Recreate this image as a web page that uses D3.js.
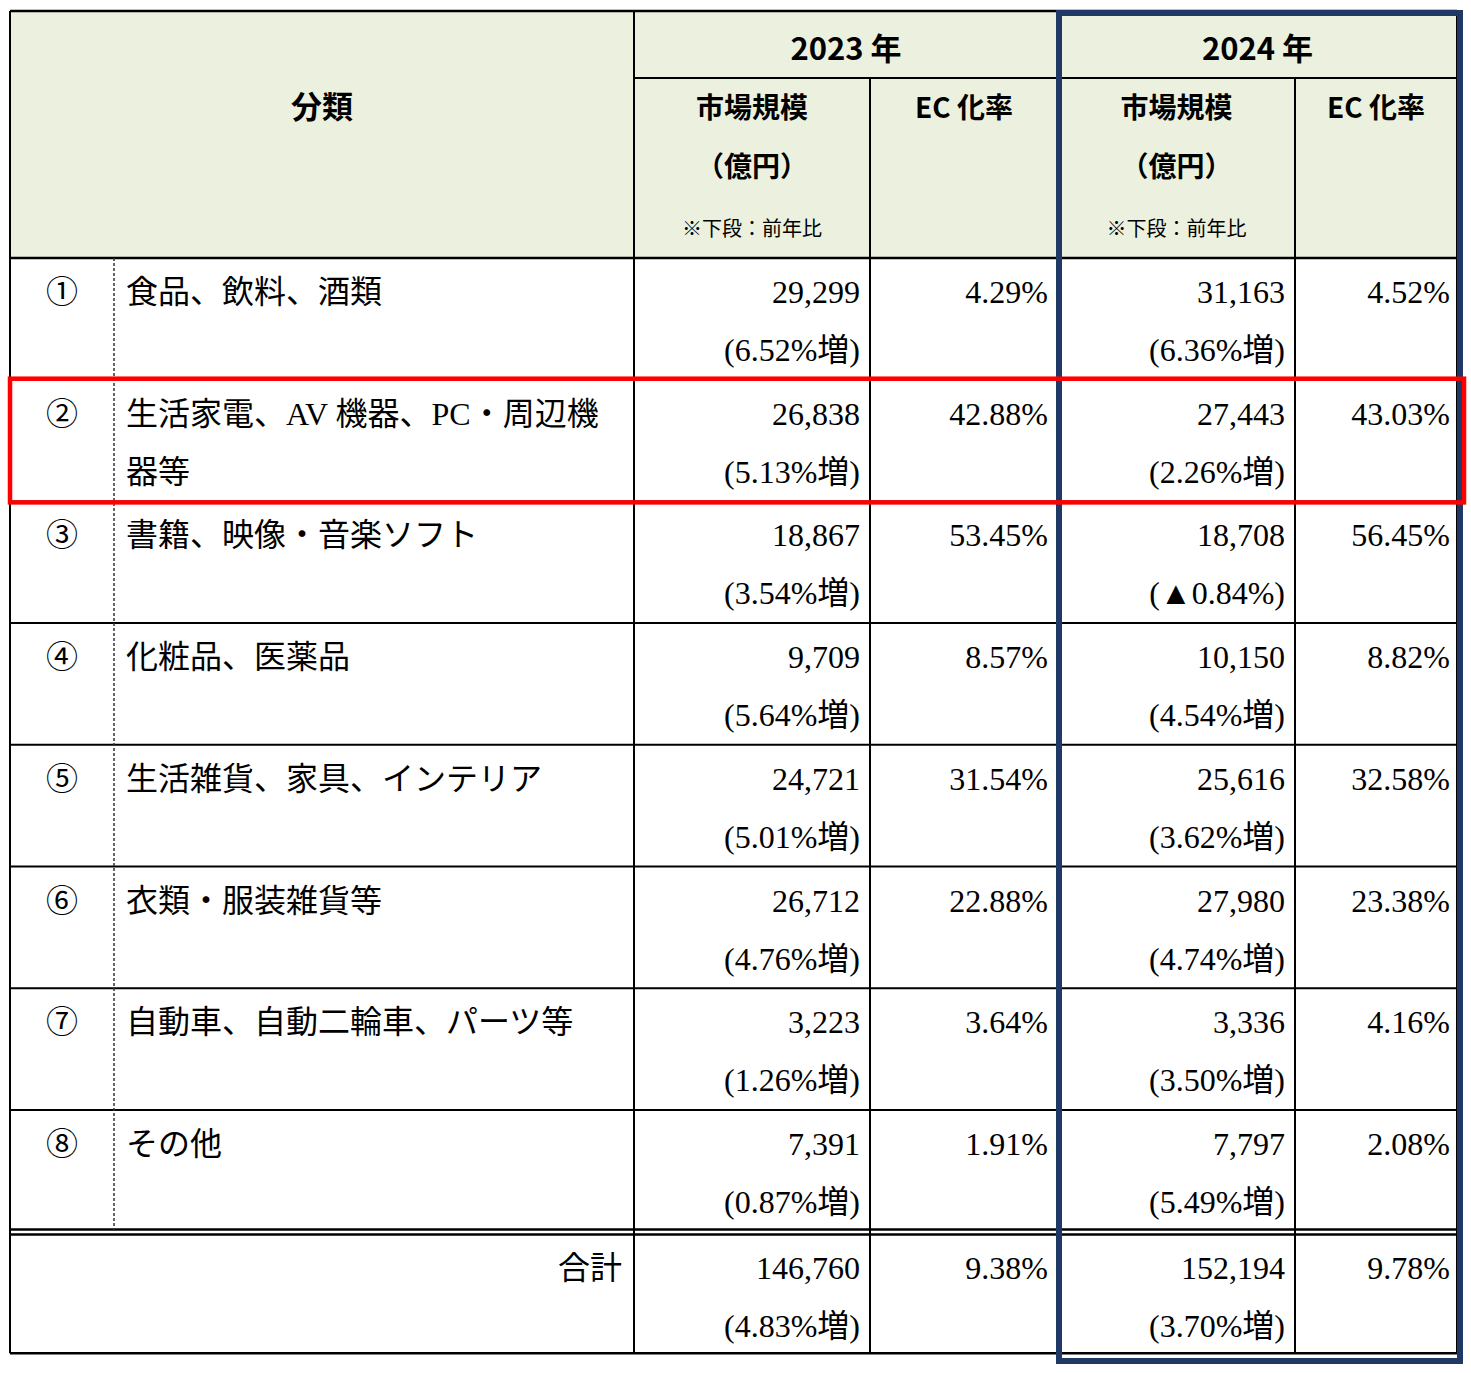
<!DOCTYPE html><html><head><meta charset="utf-8"><script src="https://cdn.jsdelivr.net/npm/d3@7"></script>
<style>body{margin:0;background:#fff}</style></head><body><svg id="c" width="1471" height="1373"></svg>
<script>
const nums=["①","②","③","④","⑤","⑥","⑦","⑧"];
const categories=[["食品、飲料、酒類"],["生活家電、AV 機器、PC・周辺機","器等"],["書籍、映像・音楽ソフト"],["化粧品、医薬品"],["生活雑貨、家具、インテリア"],["衣類・服装雑貨等"],["自動車、自動二輪車、パーツ等"],["その他"]];
const size2023=["29,299","26,838","18,867","9,709","24,721","26,712","3,223","7,391"];
const growth2023=["(6.52%増)","(5.13%増)","(3.54%増)","(5.64%増)","(5.01%増)","(4.76%増)","(1.26%増)","(0.87%増)"];
const ec2023=["4.29%","42.88%","53.45%","8.57%","31.54%","22.88%","3.64%","1.91%"];
const size2024=["31,163","27,443","18,708","10,150","25,616","27,980","3,336","7,797"];
const growth2024=["(6.36%増)","(2.26%増)","(▲0.84%)","(4.54%増)","(3.62%増)","(4.74%増)","(3.50%増)","(5.49%増)"];
const ec2024=["4.52%","43.03%","56.45%","8.82%","32.58%","23.38%","4.16%","2.08%"];
const total=["146,760","(4.83%増)","9.38%","152,194","(3.70%増)","9.78%"];
const svg=d3.select("#c");
const xs=[10,114,634,870,1058,1295,1457];
const y0=11,yYear=78,yH=258,rowH=121.7;
const y=d3.scaleLinear().domain([0,9]).range([yH,yH+9*rowH]);
const serif="'Liberation Serif','DejaVu Serif','Noto Sans CJK JP',serif";
const bold="'Noto Sans CJK JP','DejaVu Sans',sans-serif";
svg.append("rect").attr("x",xs[0]).attr("y",y0).attr("width",xs[6]-xs[0]).attr("height",yH-y0).attr("fill","#ebf1de");
const L=(x1,y1,x2,y2,w=2,c="#000",d=null)=>svg.append("line").attr("x1",x1).attr("y1",y1).attr("x2",x2).attr("y2",y2).attr("stroke",c).attr("stroke-width",w).attr("stroke-dasharray",d);
const T=(x,yy,t,o={})=>svg.append("text").attr("x",x).attr("y",yy).attr("text-anchor",o.a||"start").attr("font-family",o.f||serif).attr("font-size",o.s||32).attr("font-weight",o.w||"normal").attr("fill","#000").text(t);
L(xs[0],y0,xs[6],y0,2.5);
L(xs[2],yYear,xs[6],yYear,2);
L(xs[0],yH,xs[6],yH,2.5);
for(let i=1;i<8;i++)L(xs[0],y(i),xs[6],y(i),2);
L(xs[0],y(8)-2,xs[6],y(8)-2,2.5);L(xs[0],y(8)+3,xs[6],y(8)+3,2.5);
L(xs[0],y(9),xs[6],y(9),2.5);
L(xs[0],y0,xs[0],y(9),2);L(xs[6],y0,xs[6],y(9),2);
L(xs[2],y0,xs[2],y(9),2);
[3,5].forEach(i=>L(xs[i],yYear,xs[i],y(9),2));
L(xs[4],y0,xs[4],y(9),2);
L(xs[1],yH,xs[1],y(8),1.5,"#333","3,2");
T(322,118,"分類",{a:"middle",f:bold,w:"bold",s:31});
[[xs[2],xs[4],"2023 年"],[xs[4],xs[6],"2024 年"]].forEach(([a,b,t])=>{
 T((a+b)/2,60,t,{a:"middle",f:bold,w:"bold",s:31});});
[[xs[2],xs[3],xs[4]],[xs[4],xs[5],xs[6]]].forEach(([a,b,c])=>{
 T((a+b)/2,118,"市場規模",{a:"middle",f:bold,w:"bold",s:28});
 T((a+b)/2,177,"（億円）",{a:"middle",f:bold,w:"bold",s:28});
 T((a+b)/2,236,"※下段：前年比",{a:"middle",f:bold,s:20});
 T((b+c)/2,118,"EC 化率",{a:"middle",f:bold,w:"bold",s:28});
});
categories.forEach((c,i)=>{
 const t=y(i);
 T(62,t+45,nums[i],{a:"middle"});
 c.forEach((l,k)=>T(126,t+45+k*58,l));
 T(xs[3]-10,t+45,size2023[i],{a:"end"});
 T(xs[3]-10,t+103,growth2023[i],{a:"end"});
 T(xs[4]-10,t+45,ec2023[i],{a:"end"});
 T(xs[5]-10,t+45,size2024[i],{a:"end"});
 T(xs[5]-10,t+103,growth2024[i],{a:"end"});
 T(xs[6]-7,t+45,ec2024[i],{a:"end"});
});
const tt=y(8)+3;
T(622,tt+44,"合計",{a:"end"});
T(xs[3]-10,tt+44,total[0],{a:"end"});T(xs[3]-10,tt+102,total[1],{a:"end"});
T(xs[4]-10,tt+44,total[2],{a:"end"});
T(xs[5]-10,tt+44,total[3],{a:"end"});T(xs[5]-10,tt+102,total[4],{a:"end"});
T(xs[6]-7,tt+44,total[5],{a:"end"});
svg.append("rect").attr("x",1059).attr("y",13).attr("width",401).attr("height",1348).attr("fill","none").attr("stroke","#1f3864").attr("stroke-width",6);
svg.append("rect").attr("x",10).attr("y",y(1)-1).attr("width",1454).attr("height",rowH+2).attr("fill","none").attr("stroke","#f00").attr("stroke-width",4.5);
</script></body></html>
